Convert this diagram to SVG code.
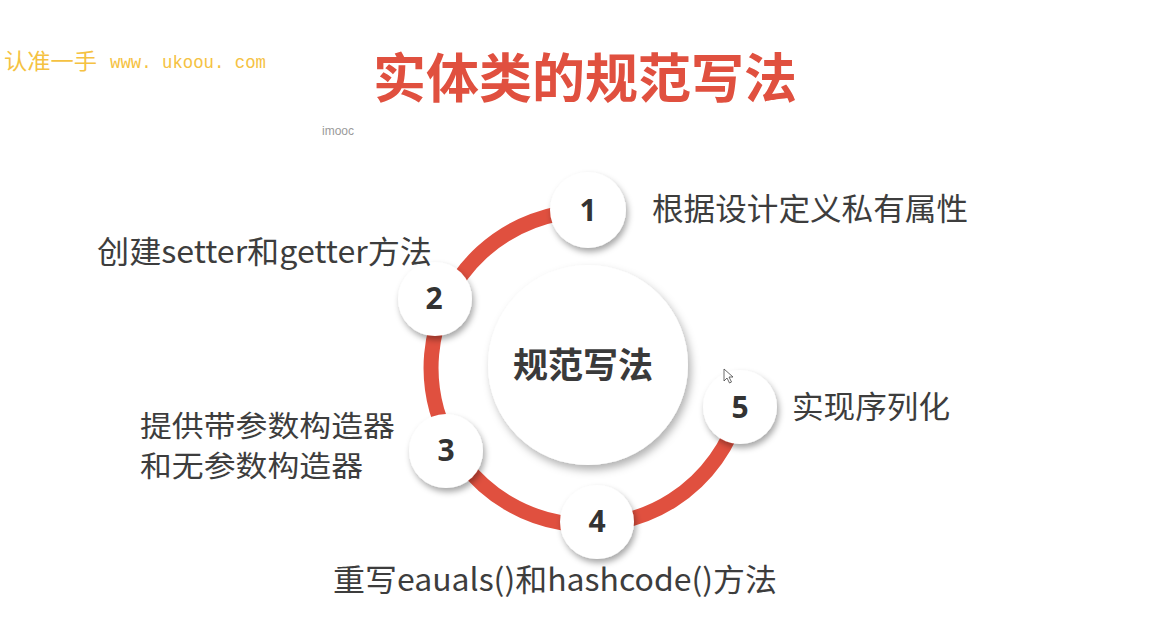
<svg xmlns="http://www.w3.org/2000/svg" width="1161" height="622" viewBox="0 0 1161 622">
  <defs>
    <filter id="shadow" x="-30%" y="-30%" width="160%" height="170%">
      <feDropShadow dx="2" dy="4" stdDeviation="3" flood-color="#000" flood-opacity="0.35"/>
    </filter>
    <filter id="shadowBig" x="-20%" y="-20%" width="140%" height="150%">
      <feDropShadow dx="3" dy="5" stdDeviation="4" flood-color="#000" flood-opacity="0.3"/>
    </filter>
  </defs>
  <style>
    .lbl { font-family: "Noto Sans CJK SC", "Noto Sans", sans-serif; font-size: 31px; fill: #3d3d3d; }
    .lbl2 { font-family: "Noto Sans CJK SC", "Noto Sans", sans-serif; font-size: 29px; fill: #3d3d3d; }
    .num { font-family: "Open Sans", "Noto Sans", sans-serif; font-size: 30px; font-weight: bold; fill: #333333; text-anchor: middle; }
    .node { fill: #ffffff; filter: url(#shadow); }
    .ring { fill: none; stroke: #e0503f; stroke-width: 15; }
  </style>
  <rect width="1161" height="622" fill="#ffffff"/>

  <text x="4" y="69" font-family="Noto Sans CJK SC, sans-serif" font-size="22" fill="#f5c242" textLength="93" lengthAdjust="spacingAndGlyphs">认准一手</text>
  <text x="110" y="68" font-family="Liberation Mono, monospace" font-size="18" fill="#f5c242" textLength="156" lengthAdjust="spacingAndGlyphs">www. ukoou. com</text>

  <text x="373" y="98" font-family="Noto Sans CJK SC, sans-serif" font-size="53" font-weight="bold" fill="#e0503f" textLength="424" lengthAdjust="spacingAndGlyphs">实体类的规范写法</text>

  <text x="322" y="135" font-family="Liberation Sans, sans-serif" font-size="12" fill="#9a9a9a">imooc</text>

  <g id="connectors">
    <path class="ring" d="M 588 211 A 157 157 0 1 0 739.7 408.6"/>
  </g>

  <g id="center">
    <circle cx="588" cy="365" r="100" fill="#ffffff" filter="url(#shadowBig)"/>
    <text x="583" y="378" font-family="Noto Sans CJK SC, sans-serif" font-size="35" font-weight="bold" fill="#3a3a3a" text-anchor="middle">规范写法</text>
  </g>

  <g id="node1">
    <circle class="node" cx="588" cy="210" r="38"/>
    <text class="num" x="588" y="221">1</text>
    <text class="lbl" x="652" y="220" textLength="316" lengthAdjust="spacingAndGlyphs">根据设计定义私有属性</text>
  </g>

  <g id="node2">
    <circle class="node" cx="435" cy="299" r="37"/>
    <text class="num" x="434" y="309">2</text>
    <text class="lbl" x="97" y="263" textLength="335" lengthAdjust="spacingAndGlyphs">创建setter和getter方法</text>
  </g>

  <g id="node3">
    <circle class="node" cx="446" cy="451" r="37"/>
    <text class="num" x="446" y="461">3</text>
    <text class="lbl2" x="140" y="437" textLength="255" lengthAdjust="spacingAndGlyphs">提供带参数构造器</text>
    <text class="lbl2" x="140" y="477" textLength="223" lengthAdjust="spacingAndGlyphs">和无参数构造器</text>
  </g>

  <g id="node4">
    <circle class="node" cx="597" cy="522" r="37"/>
    <text class="num" x="597" y="532">4</text>
    <text class="lbl" x="333" y="591" textLength="444" lengthAdjust="spacingAndGlyphs">重写eauals()和hashcode()方法</text>
  </g>

  <g id="node5">
    <circle class="node" cx="740" cy="407" r="37"/>
    <text class="num" x="740" y="418">5</text>
    <text class="lbl" x="792" y="418" textLength="158" lengthAdjust="spacingAndGlyphs">实现序列化</text>
  </g>

  <path d="M 724 369 L 724 381 L 727 378 L 729.5 383 L 731.5 382 L 729 377 L 733 377 Z" fill="#ffffff" stroke="#444444" stroke-width="0.8"/>
</svg>
